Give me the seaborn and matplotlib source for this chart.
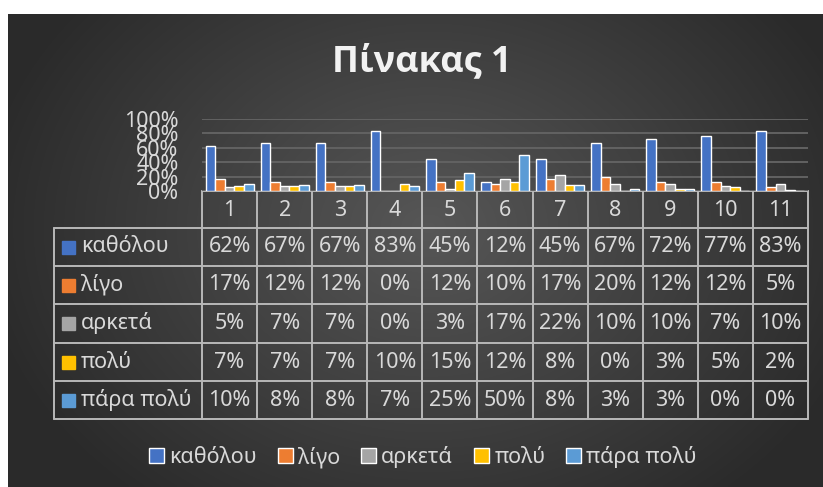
import numpy as np
import pandas as pd
import matplotlib
matplotlib.use("Agg")
import matplotlib.pyplot as plt
import seaborn as sns
from matplotlib.patches import Patch, Rectangle
from matplotlib.ticker import PercentFormatter

# data
questions = [str(i) for i in range(1, 12)]
levels = ["καθόλου", "λίγο", "αρκετά", "πολύ", "πάρα πολύ"]
katholou = [62, 67, 67, 83, 45, 12, 45, 67, 72, 77, 83]
ligo = [17, 12, 12, 0, 12, 10, 17, 20, 12, 12, 5]
arketa = [5, 7, 7, 0, 3, 17, 22, 10, 10, 7, 10]
poly = [7, 7, 7, 10, 15, 12, 8, 0, 3, 5, 2]
para_poly = [10, 8, 8, 7, 25, 50, 8, 3, 3, 0, 0]
colors = ["#4472C4", "#ED7D31", "#A5A5A5", "#FFC000", "#5B9BD5"]

series = [katholou, ligo, arketa, poly, para_poly]
df = pd.DataFrame({
    "q": questions * len(levels),
    "level": [lv for lv in levels for _ in questions],
    "pct": [v for s in series for v in s],
})
df["val"] = df["pct"] / 100

sns.set_style("dark")
plt.rcParams["font.family"] = ["Noto Sans", "DejaVu Sans"]
txt = "#d9d9d9"
line = "#b8b8b8"
fs = 15.5

W, H = 823, 487
fig = plt.figure(figsize=(W / 100, H / 100), dpi=100)
fig.patch.set_facecolor("white")

# background axes in pixel coords
bg = fig.add_axes([0, 0, 1, 1], zorder=0)
bg.set_xlim(0, W)
bg.set_ylim(H, 0)
bg.axis("off")
yy, xx = np.mgrid[0:200, 0:340]
d = np.sqrt(((xx - 175) / 190.0) ** 2 + ((yy - 90) / 150.0) ** 2)
grad = np.clip(1 - d, 0, 1)
c0, c1 = 0.165, 0.34
img = c0 + (c1 - c0) * grad
bg.imshow(np.dstack([img, img, img]), extent=(8, W, H, 14), aspect="auto",
          interpolation="bicubic")

# title
bg.text(422, 62, "Πίνακας 1", color="#f2f2f2", fontsize=26, fontweight="bold",
        family=["Open Sans", "DejaVu Sans"], ha="center", va="center")

# bar axes
x0, x1, ytop, ybot = 202, 808, 119, 191
ax = fig.add_axes([x0 / W, 1 - ybot / H, (x1 - x0) / W, (ybot - ytop) / H], zorder=1)
ax.patch.set_alpha(0)
sns.barplot(data=df, x="q", y="val", hue="level", hue_order=levels, palette=colors,
            width=0.87, saturation=1, legend=False, ax=ax)
ax.set_ylim(0, 1)
ax.set_yticks([0, 0.2, 0.4, 0.6, 0.8, 1.0])
ax.yaxis.set_major_formatter(PercentFormatter(1.0, decimals=0))
ax.tick_params(axis="y", colors=txt, labelsize=fs, length=0, pad=17)
ax.set_xticks([])
ax.set_xlabel("")
ax.set_ylabel("")
ax.grid(axis="y", color="#626262", linewidth=1.4)
ax.set_axisbelow(True)
for s in ax.spines.values():
    s.set_visible(False)

# data table
cw = (x1 - x0) / len(questions)
rows = [191, 228, 266, 304, 343, 381, 419]
lx = 54
for r in rows[1:]:
    bg.plot([lx, x1], [r, r], color=line, lw=1.4)
bg.plot([x0, x1], [rows[0], rows[0]], color=line, lw=1.4)
bg.plot([lx, lx], [rows[1], rows[-1]], color=line, lw=1.4)
for k in range(len(questions) + 1):
    bg.plot([x0 + k * cw, x0 + k * cw], [rows[0], rows[-1]], color=line, lw=1.4)
for k, q in enumerate(questions):
    bg.text(x0 + (k + 0.5) * cw, (rows[0] + rows[1]) / 2 + 1, q, color=txt,
            fontsize=fs, ha="center", va="center")
for i, (lv, s, c) in enumerate(zip(levels, series, colors)):
    yc = (rows[i + 1] + rows[i + 2]) / 2
    bg.add_patch(Rectangle((62, yc - 6.5), 13, 13, color=c))
    bg.text(81, yc, lv, color=txt, fontsize=fs, ha="left", va="center")
    for k, v in enumerate(s):
        bg.text(x0 + (k + 0.5) * cw, yc, f"{v}%", color=txt, fontsize=fs,
                ha="center", va="center")

# legend
handles = [Patch(facecolor=c, label=lv) for lv, c in zip(levels, colors)]
leg = fig.legend(handles=handles, loc="center", bbox_to_anchor=(423 / W, 1 - 457 / H),
                 ncol=5, frameon=False, fontsize=fs, handlelength=0.7,
                 handleheight=0.7, handletextpad=0.25, columnspacing=0.95)
for t in leg.get_texts():
    t.set_color(txt)

fig.savefig("out.png", dpi=100)
